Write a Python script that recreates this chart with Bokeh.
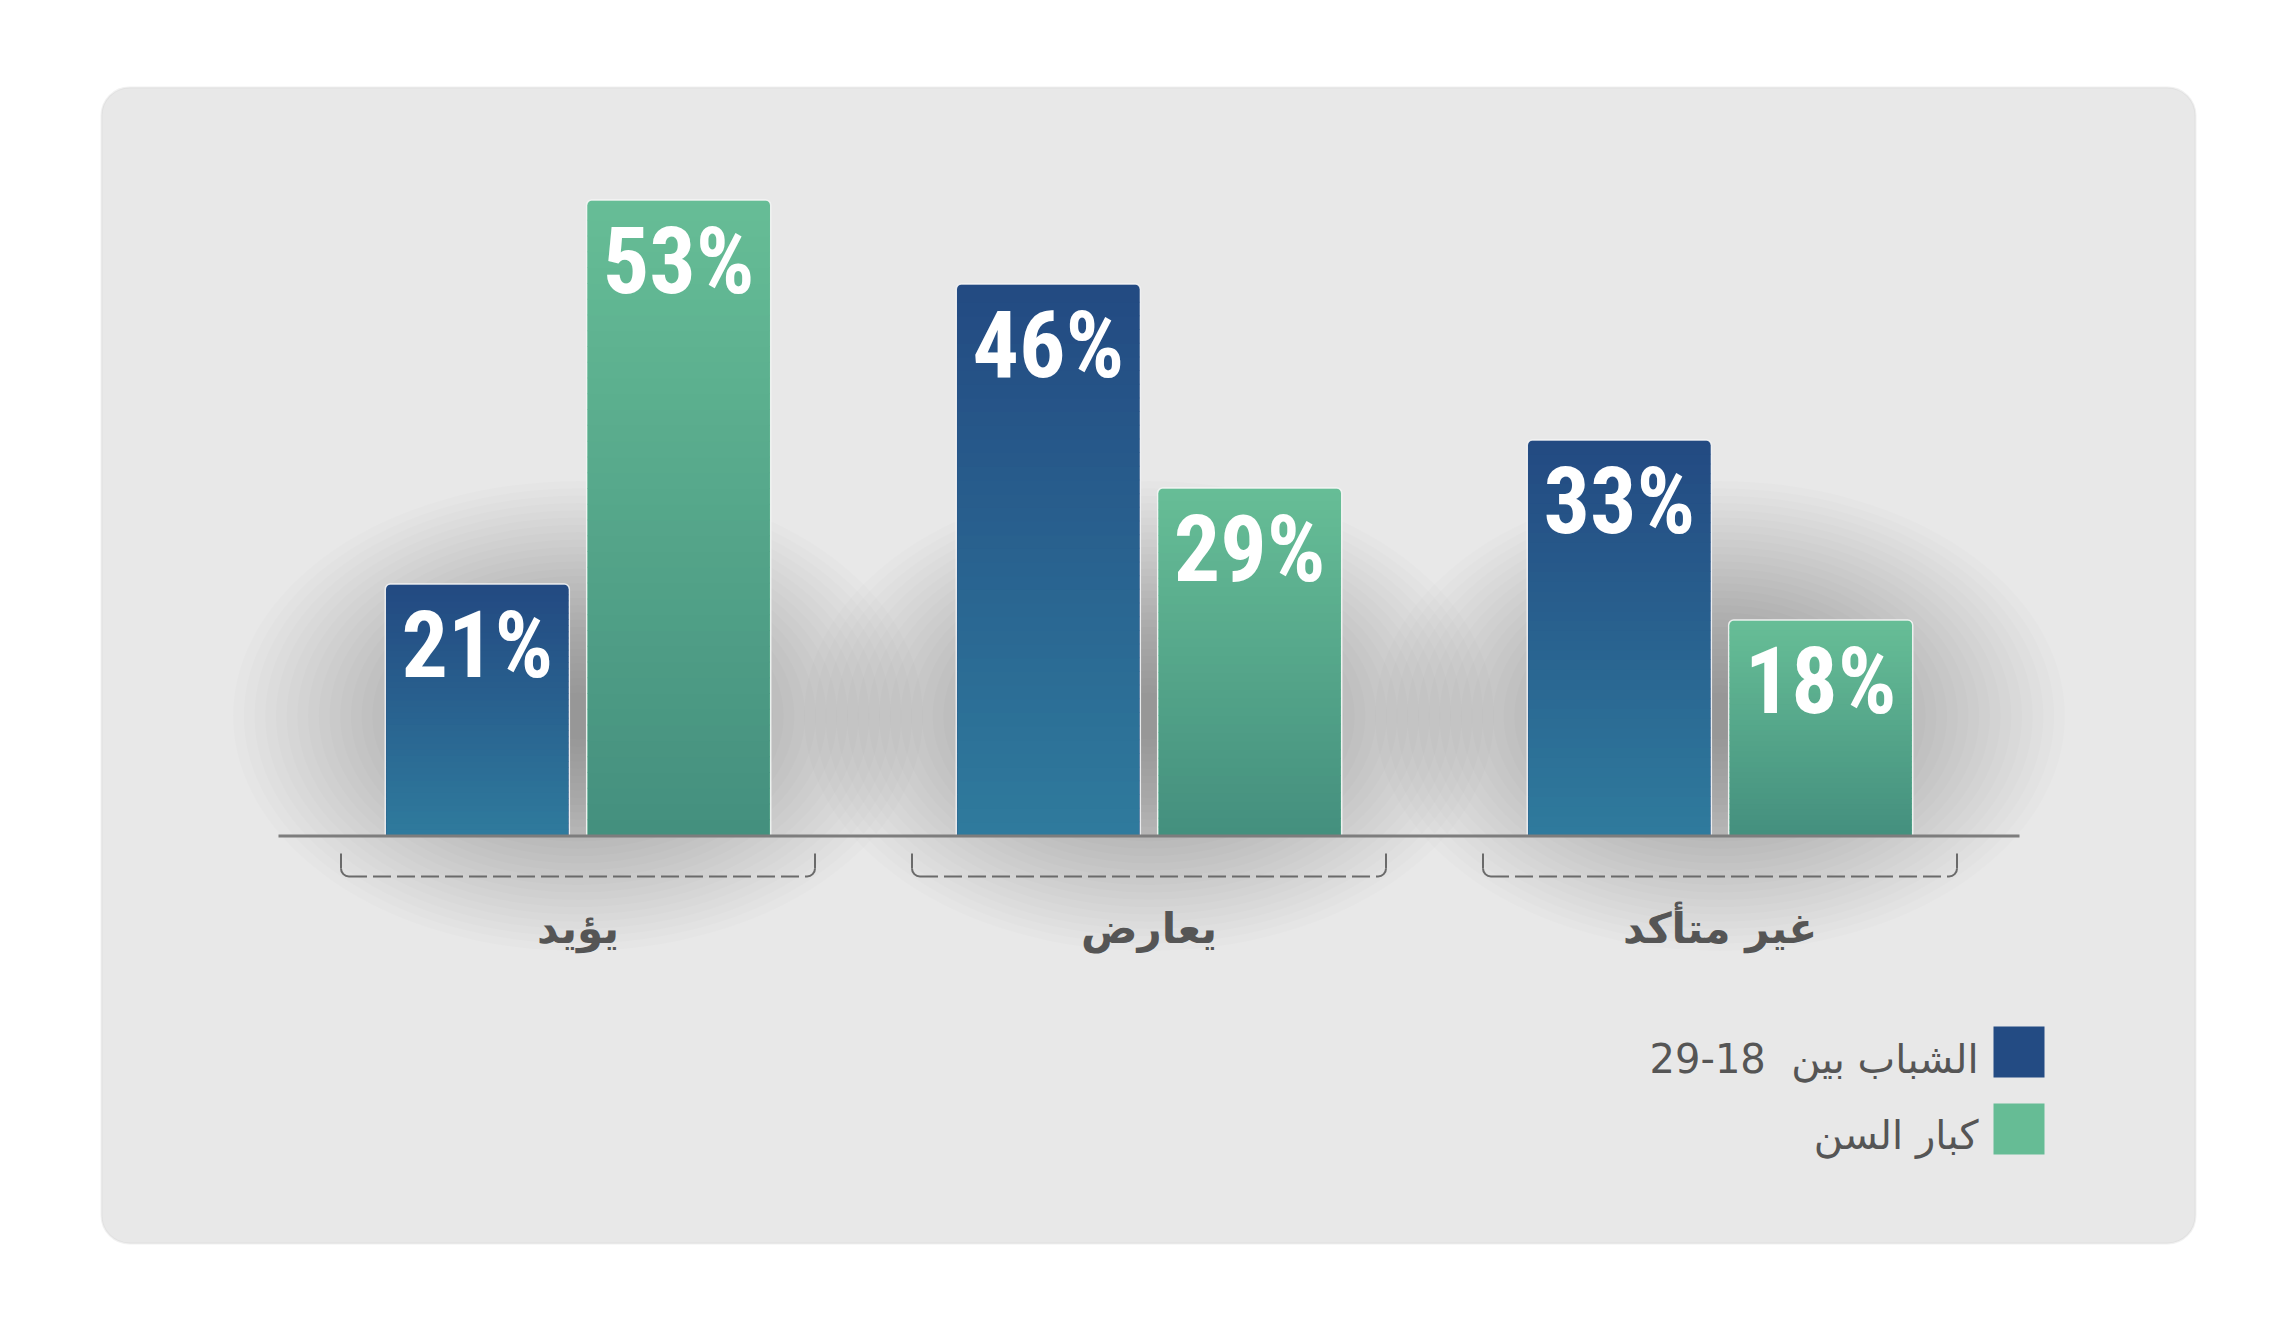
import numpy as np
from bokeh.plotting import figure
from bokeh.models import Range1d, BoxAnnotation
from bokeh.core.properties import value
from bokeh.embed import file_html
from bokeh.resources import INLINE

# ---------------- data ----------------
categories = ["يؤيد", "يعارض", "غير متأكد"]
youth = [21, 46, 33]          # الشباب بين 18-29
elders = [53, 29, 18]         # كبار السن
series_names = ["الشباب بين  18-29", "كبار السن"]

# ---------------- layout (pixels on canvas) ----------------
W, H = 2280, 1314
G0, GS = 577.5, 571.0      # canvas x of first group, px per group
BASE, PPU = 835.5, 12.0    # canvas y of 0 %, px per 1 %


def X(px):
    return (px - G0) / GS


def Y(py):
    return (BASE - py) / PPU


def dx(px):
    return px / GS


def dy(py):
    return py / PPU


def mix(c1, c2, t):
    a = [int(c1[i:i + 2], 16) for i in (1, 3, 5)]
    b = [int(c2[i:i + 2], 16) for i in (1, 3, 5)]
    return "#%02x%02x%02x" % tuple(round(a[j] + (b[j] - a[j]) * t) for j in range(3))


p = figure(width=W, height=H, x_range=Range1d(X(0), X(W)), y_range=Range1d(Y(H), Y(0)),
           output_backend="svg", toolbar_location=None, min_border=0,
           x_axis_location=None, y_axis_location=None, outline_line_color=None,
           background_fill_color="white", border_fill_color="white")
p.grid.visible = False

# card
card = BoxAnnotation(left=X(101), right=X(2195), top=Y(87), bottom=Y(1243),
                     fill_color="#e8e8e8", fill_alpha=1.0, line_color="#d0d0d0",
                     line_width=2, border_radius=28, level="underlay")
p.add_layout(card)

xs = list(range(len(categories)))

# soft shadows behind each group
n_layers = 30
for k in range(n_layers):
    s = 1.0 - 0.9 * k / (n_layers - 1)
    p.ellipse(x=xs, y=[10] * len(xs), width=690 * s, height=470 * s,
              width_units="screen", height_units="screen",
              fill_color="black", fill_alpha=0.0115, line_color=None)

# bars with vertical gradient
BW = 184 / GS
OFF = 100.7 / GS
K = 40
VALUE_FONT = "'Roboto Condensed', 'Liberation Sans Narrow', Roboto, sans-serif"
series = [
    (youth, -OFF, "#234a82", "#2f7b9d"),
    (elders, OFF, "#66bd96", "#448f7e"),
]
for vals, off, ctop, cbot in series:
    xc = [i + off for i in xs]
    p.vbar(x=xc, top=vals, bottom=0, width=BW, fill_color=ctop,
           line_color="#f6f6f6", line_width=1.5, line_alpha=0.9,
           border_radius=(5, 5, 0, 0))
    L, R, B, T, C = [], [], [], [], []
    for x_i, v in zip(xc, vals):
        h_end = v - dy(5)
        for k in range(K):
            L.append(x_i - BW / 2 + dx(1))
            R.append(x_i + BW / 2 - dx(1))
            B.append(h_end * k / K)
            T.append(min(h_end * (k + 1) / K + dy(1), h_end))
            C.append(mix(cbot, ctop, (k + 0.5) / K))
    p.quad(left=L, right=R, bottom=B, top=T, fill_color=C, line_color=None)
    p.text(x=xc, y=vals, text=[f"{v}%" for v in vals], text_align="center",
           text_baseline="alphabetic", y_offset=61, text_color="white",
           text_font=value(VALUE_FONT), text_font_style="bold",
           text_font_size="92px")

# baseline
p.segment(x0=[X(278)], y0=[0], x1=[X(2019)], y1=[0], line_color="#7d7d7d", line_width=3)

# brackets under each group
HB = dx(237)
RR = 8
yb = Y(876)
yt = Y(853)
bc = "#6a6a6a"
p.segment(x0=[g - HB + dx(RR) for g in xs], y0=[yb] * 3,
          x1=[g + HB - dx(RR) for g in xs], y1=[yb] * 3,
          line_color=bc, line_width=2, line_dash="18 6")
p.segment(x0=[g - HB for g in xs] + [g + HB for g in xs], y0=[yt] * 6,
          x1=[g - HB for g in xs] + [g + HB for g in xs], y1=[yb + dy(RR)] * 6,
          line_color=bc, line_width=2)
p.arc(x=[g - HB + dx(RR) for g in xs], y=[yb + dy(RR)] * 3, radius=RR, radius_units="screen",
      start_angle=np.pi, end_angle=1.5 * np.pi, line_color=bc, line_width=2)
p.arc(x=[g + HB - dx(RR) for g in xs], y=[yb + dy(RR)] * 3, radius=RR, radius_units="screen",
      start_angle=1.5 * np.pi, end_angle=2 * np.pi, line_color=bc, line_width=2)

# category labels
p.text(x=xs, y=[Y(928)] * 3, text=categories, text_align="center",
       text_baseline="alphabetic", text_color="#555555",
       text_font=value("DejaVu Sans"), text_font_style="bold", text_font_size="42px")

# legend
p.scatter(x=[X(2018.5)] * 2, y=[Y(1051.5), Y(1128.5)], marker="square", size=51,
          fill_color=["#234b83", "#66bc95"], line_color=None)
legend_text = [n.replace("  ", "\u00a0\u00a0") for n in series_names]
p.text(x=[X(1978)] * 2, y=[Y(1058), Y(1134)], text=legend_text, text_align="right",
       text_baseline="alphabetic", text_color="#555555",
       text_font=value("DejaVu Sans"), text_font_size="40px")

with open("out.html", "w", encoding="utf-8") as f:
    f.write(file_html(p, INLINE))
